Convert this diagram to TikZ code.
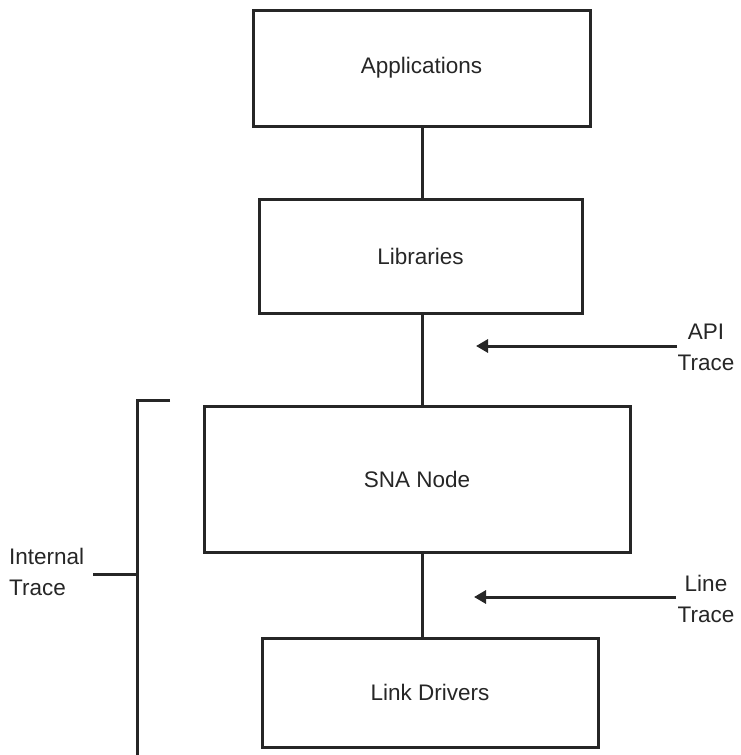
\documentclass[tikz,border=0pt]{standalone}
\usepackage{fontspec}
\setmainfont{Liberation Sans}
\usetikzlibrary{arrows.meta,calc}
\begin{document}
\begin{tikzpicture}[x=1pt,y=-1pt,
  box/.style={draw=black!85,line width=3pt,minimum width=#1,inner sep=0pt},
  lbl/.style={font=\fontsize{22.5}{31}\selectfont,text=black!85,align=center,inner sep=0pt},
  wire/.style={draw=black!85,line width=3pt},
  tracearrow/.style={wire,-{Triangle[length=12pt,width=13pt]}}]
\useasboundingbox (0,0) rectangle (741,755);
\node[box=337pt,minimum height=116pt,lbl] (apps) at (421.5,68) {Applications};
\node[box=323pt,minimum height=114pt,lbl] (libs) at (420.5,256) {Libraries};
\node[box=426pt,minimum height=146pt,lbl] (sna) at (417,479) {SNA Node};
\node[box=336pt,minimum height=109pt,lbl] (ld) at (430,692.5) {Link Drivers};
\coordinate (cx) at (422,0);
\draw[wire] (apps.south -| cx) -- (libs.north -| cx);
\draw[wire] (libs.south -| cx) -- (sna.north -| cx);
\draw[wire] (sna.south -| cx) -- (ld.north -| cx);
% API trace
\coordinate (apiS) at (677,346);
\coordinate (apiE) at (476,346);
\draw[tracearrow] (apiS) -- (apiE);
\node[lbl] (apit) at (706,347) {API\\Trace};
% Line trace
\coordinate (lnS) at (676,597);
\coordinate (lnE) at (474,597);
\draw[tracearrow] (lnS) -- (lnE);
\node[lbl] (lnt) at (706,599) {Line\\Trace};
% Internal trace bracket
\coordinate (bt) at (170,400);
\coordinate (bc) at (137,400);
\coordinate (bb) at (137,756);
\coordinate (tk) at (93,574);
\draw[wire] (bt) -- (bc) -- (bb);
\draw[wire] (tk) -- (tk -| bc);
\node[lbl,align=left,anchor=west] (intt) at (9,572) {Internal\\Trace};
\end{tikzpicture}
\end{document}
